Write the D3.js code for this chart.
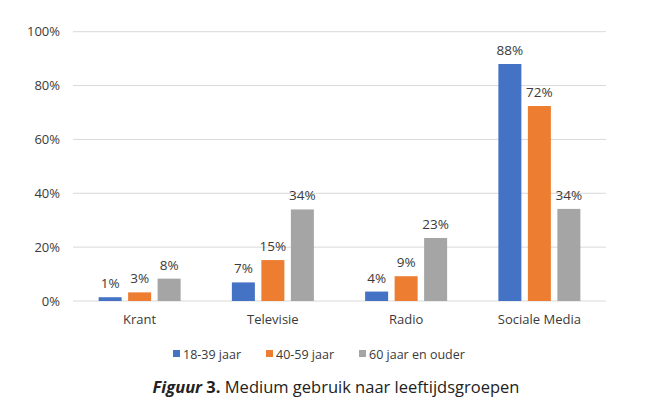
<!DOCTYPE html>
<html>
<head>
<meta charset="utf-8">
<script src="https://cdn.jsdelivr.net/npm/d3@7"></script>
<style>
  body { margin: 0; background: #fff; }
  text { font-family: "Open Sans", "Noto Sans", sans-serif; }
</style>
</head>
<body>
<div id="chart"></div>
<script>
const categories = ["Krant", "Televisie", "Radio", "Sociale Media"];
const seriesNames = ["18-39 jaar", "40-59 jaar", "60 jaar en ouder"];
const young = [0.014, 0.069, 0.035, 0.88];
const middle = [0.032, 0.152, 0.092, 0.724];
const older = [0.083, 0.34, 0.234, 0.342];
const yTicks = [0, 0.2, 0.4, 0.6, 0.8, 1];

const colors = ["#4472C4", "#ED7D31", "#A5A5A5"];
const seriesValues = [young, middle, older];

const width = 652;
const height = 408;
const plotLeft = 73;
const plotRight = 606;
const plotTop = 31.7;
const plotBottom = 301;
const groupWidth = 82;

var svg = d3
  .select("#chart")
  .append("svg")
  .attr("width", width)
  .attr("height", height);

const x = d3.scaleBand().domain(categories).range([plotLeft, plotRight]);
const xInner = d3
  .scaleBand()
  .domain(seriesNames)
  .range([0, groupWidth])
  .paddingInner(0.22);
const y = d3.scaleLinear().domain([0, 1]).range([plotBottom, plotTop]);
const pct = d3.format(".0%");

// gridlines
svg
  .append("g")
  .selectAll("line")
  .data(yTicks)
  .enter()
  .append("line")
  .attr("x1", plotLeft)
  .attr("x2", plotRight)
  .attr("y1", (d) => y(d))
  .attr("y2", (d) => y(d))
  .attr("stroke", "#d9d9d9")
  .attr("stroke-width", 1);

// y axis labels
const yAxis = d3
  .axisLeft(y)
  .tickValues(yTicks)
  .tickFormat(pct)
  .tickSize(0)
  .tickPadding(13);
const gy = svg.append("g").attr("transform", `translate(${plotLeft},0)`).call(yAxis);
gy.select(".domain").remove();
gy.selectAll("text")
  .attr("fill", "#3a3a3a")
  .style("font-size", "13px");

// x axis labels
const xAxis = d3.axisBottom(x).tickSize(0).tickPadding(14);
const gx = svg.append("g").attr("transform", `translate(0,${plotBottom})`).call(xAxis);
gx.select(".domain").remove();
gx.selectAll("text")
  .attr("fill", "#3a3a3a")
  .style("font-size", "13px");

// bars
const rows = categories.map((c, i) => ({
  cat: c,
  vals: seriesNames.map((s, j) => ({ s: s, v: seriesValues[j][i], j: j })),
}));

const groups = svg
  .selectAll(".grp")
  .data(rows)
  .enter()
  .append("g")
  .attr(
    "transform",
    (d) => `translate(${x(d.cat) + x.bandwidth() / 2 - groupWidth / 2},0)`
  );

groups
  .selectAll("rect")
  .data((d) => d.vals)
  .enter()
  .append("rect")
  .attr("x", (d) => xInner(d.s))
  .attr("y", (d) => y(d.v))
  .attr("width", xInner.bandwidth())
  .attr("height", (d) => plotBottom - y(d.v))
  .attr("fill", (d) => colors[d.j]);

groups
  .selectAll("text")
  .data((d) => d.vals)
  .enter()
  .append("text")
  .attr("x", (d) => xInner(d.s) + xInner.bandwidth() / 2)
  .attr("y", (d) => y(d.v) - 9)
  .attr("text-anchor", "middle")
  .attr("fill", "#3a3a3a")
  .style("font-size", "13.5px")
  .text((d) => pct(d.v));

// legend
const legendX = [173, 266, 359];
const legend = svg
  .selectAll(".leg")
  .data(seriesNames)
  .enter()
  .append("g")
  .attr("transform", (_, i) => `translate(${legendX[i]},354)`);

legend
  .append("rect")
  .attr("x", 0)
  .attr("y", -4)
  .attr("width", 7)
  .attr("height", 7)
  .attr("fill", (_, i) => colors[i]);

legend
  .append("text")
  .attr("x", 10)
  .attr("y", 4.5)
  .attr("fill", "#3a3a3a")
  .style("font-size", "12.5px")
  .text((d) => d);

// caption
const caption = svg
  .append("text")
  .attr("x", 336)
  .attr("y", 393)
  .attr("text-anchor", "middle")
  .attr("fill", "#222")
  .style("font-size", "16.5px");
caption
  .append("tspan")
  .style("font-weight", "bold")
  .style("font-style", "italic")
  .text("Figuur");
caption.append("tspan").style("font-weight", "bold").text(" 3.");
caption.append("tspan").text(" Medium gebruik naar leeftijdsgroepen");
</script>
</body>
</html>
